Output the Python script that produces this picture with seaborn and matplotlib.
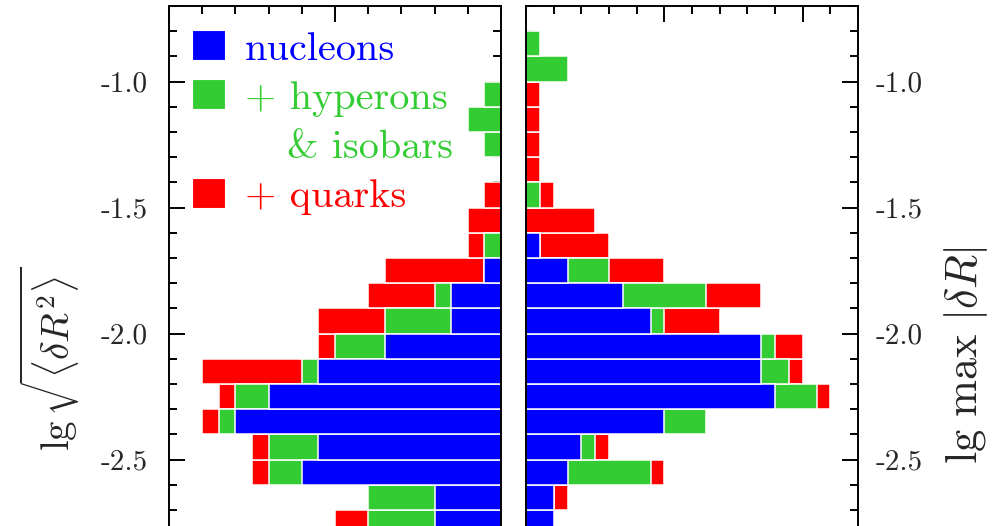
import numpy as np
import pandas as pd
import matplotlib
matplotlib.use("Agg")
import matplotlib.pyplot as plt
from matplotlib.ticker import MultipleLocator, NullFormatter
from matplotlib.patches import Rectangle
import seaborn as sns

sns.set_style("white")
plt.rcParams["mathtext.fontset"] = "cm"

# ---- data -------------------------------------------------------------
# bin centres in lg units (bins 0.1 wide)
lg_bins = [-0.75, -0.85, -0.95, -1.05, -1.15, -1.25, -1.35, -1.45, -1.55, -1.65,
           -1.75, -1.85, -1.95, -2.05, -2.15, -2.25, -2.35, -2.45, -2.55, -2.65, -2.75]

# left panel: lg sqrt(<dR^2>)
rms_nucleons = [0, 0, 0, 0, 0, 0, 0, 0, 0, 0, 1, 3, 3, 7, 11, 14, 16, 11, 12, 4, 4]
rms_hyperons = [0, 0, 0, 1, 2, 1, 0, 0, 0, 1, 0, 1, 4, 3, 1, 2, 1, 3, 2, 4, 4]
rms_quarks   = [0, 0, 0, 0, 0, 0, 0, 1, 2, 1, 6, 4, 4, 1, 6, 1, 1, 1, 1, 0, 2]

# right panel: lg max|dR|
max_nucleons = [0, 0, 0, 0, 0, 0, 0, 0, 0, 1, 3, 7, 9, 17, 17, 18, 10, 4, 3, 2, 2]
max_hyperons = [0, 1, 3, 0, 0, 0, 0, 1, 0, 0, 3, 6, 1, 1, 2, 3, 3, 1, 6, 0, 0]
max_quarks   = [0, 0, 0, 1, 1, 1, 1, 1, 5, 5, 4, 4, 4, 2, 1, 1, 0, 1, 1, 1, 0]

ytick_vals = [-2.5, -2.0, -1.5, -1.0]
ytick_labels = ["-2.5", "-2.0", "-1.5", "-1.0"]

legend_labels = ["nucleons", "+ hyperons", "& isobars", "+ quarks"]

BLUE = "#0000ff"
GREEN = "#33cc33"
RED = "#ff0000"

# ---- figure -------------------------------------------------------------
W, H = 997, 526
fig = plt.figure(figsize=(W / 100, H / 100), dpi=100)

ymin, ymax = -2.9, -0.7
px_per_unit = 252.0
ax_h_px = (ymax - ymin) * px_per_unit
top_px = 6
bottom_frac = (H - top_px - ax_h_px) / H

axL = fig.add_axes([169 / W, bottom_frac, 332 / W, ax_h_px / H])
axR = fig.add_axes([526 / W, bottom_frac, 332 / W, ax_h_px / H])


def draw_panel(ax, nuc, hyp, qrk):
    nuc = np.array(nuc, float)
    hyp = np.array(hyp, float)
    qrk = np.array(qrk, float)
    df = pd.DataFrame({
        "lg": lg_bins,
        "nuc": nuc,
        "nuc_hyp": nuc + hyp,
        "all": nuc + hyp + qrk,
    })
    for col, colr in [("all", RED), ("nuc_hyp", GREEN), ("nuc", BLUE)]:
        sns.barplot(data=df, x=col, y="lg", orient="y", native_scale=True,
                    width=1.0, color=colr, saturation=1.0, edgecolor="white",
                    linewidth=1.1, errorbar=None, ax=ax)
    ax.set_ylim(ymin, ymax)
    ax.set_xlabel("")
    ax.set_ylabel("")
    ax.xaxis.set_major_locator(MultipleLocator(10))
    ax.xaxis.set_minor_locator(MultipleLocator(2))
    ax.xaxis.set_major_formatter(NullFormatter())
    ax.set_yticks(ytick_vals)
    ax.yaxis.set_minor_locator(MultipleLocator(0.1))
    ax.tick_params(which="both", direction="in", top=True, bottom=True,
                   left=True, right=True, color="black", width=1.4)
    ax.tick_params(which="major", length=11.5)
    ax.tick_params(which="minor", length=5.8)
    for s in ax.spines.values():
        s.set_visible(True)
        s.set_linewidth(1.4)
        s.set_color("black")


draw_panel(axL, rms_nucleons, rms_hyperons, rms_quarks)
draw_panel(axR, max_nucleons, max_hyperons, max_quarks)

axL.set_xlim(20, 0)
axR.set_xlim(0, 24)

axL.set_yticklabels(ytick_labels, fontfamily="cmr10", fontsize=21)
axL.tick_params(axis="y", labelleft=True, labelright=False, pad=15)
axR.set_yticklabels(ytick_labels, fontfamily="cmr10", fontsize=21)
axR.tick_params(axis="y", labelleft=False, labelright=True, pad=13)

# axis titles
fig.text(50 / W, 1 - 359 / H, r"$\mathrm{lg}\,\sqrt{\langle\delta R^2\rangle}$",
         rotation=90, ha="center", va="center", fontsize=28)
fig.text(966 / W, 1 - 355 / H, r"$\mathrm{lg\ max}\ |\delta R|$",
         rotation=90, ha="center", va="center", fontsize=32)

# legend
def px(x, y):
    return x / W, 1 - y / H

sq_w, sq_h = 33, 30
for (ytop, colr) in [(30, BLUE), (79, GREEN), (178, RED)]:
    x0, y0 = px(192, ytop + sq_h)
    fig.patches.append(Rectangle((x0, y0), sq_w / W, sq_h / H, transform=fig.transFigure,
                                 facecolor=colr, edgecolor="white", linewidth=0.8))

for (label, x, yb, colr) in [(legend_labels[0], 245, 60, BLUE),
                             (legend_labels[1], 245, 109, GREEN),
                             (legend_labels[2], 287, 158, GREEN),
                             (legend_labels[3], 245, 207, RED)]:
    fx, fy = px(x, yb)
    fig.text(fx, fy, label, color=colr, fontfamily="cmr10", fontsize=29,
             ha="left", va="baseline")

fig.savefig("out.png", dpi=100)
